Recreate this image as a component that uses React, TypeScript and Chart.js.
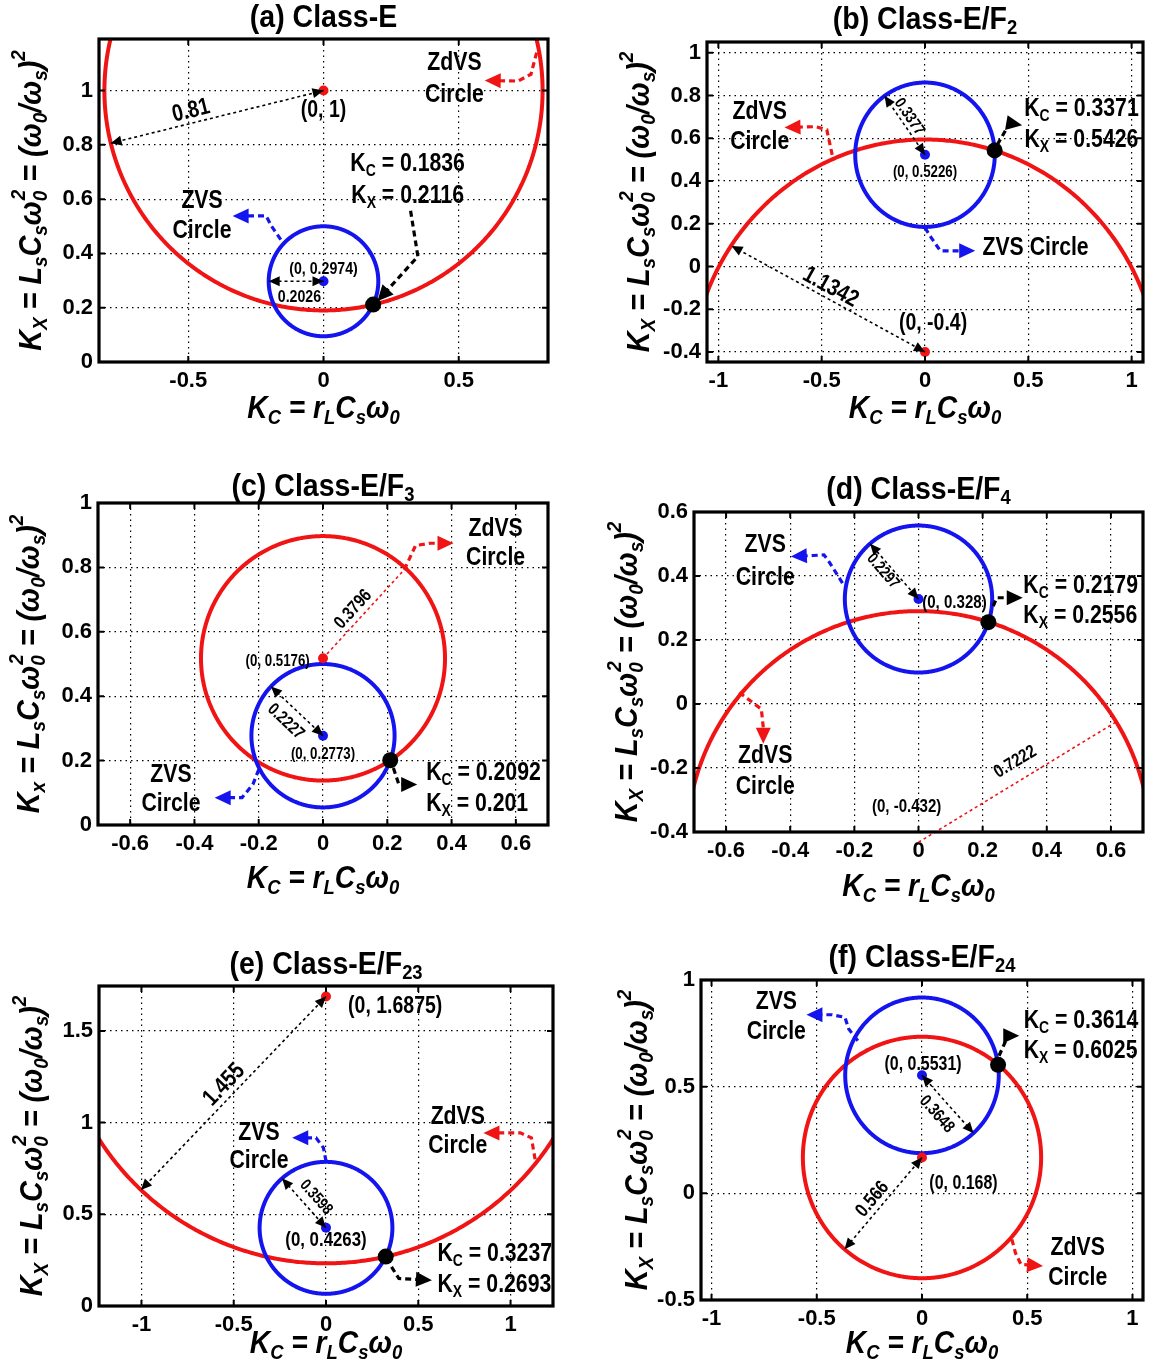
import React, { useEffect, useRef } from "react";
import { Chart, registerables } from "chart.js";

Chart.register(...registerables);

const FONT = '"Liberation Sans", Arial, sans-serif';
const RED = "#f01414";
const BLUE = "#1414ee";
const BLACK = "#000000";

// ---------------- data ----------------
const panelLetters = ["(a)", "(b)", "(c)", "(d)", "(e)", "(f)"];
const panelClasses = ["Class-E", "Class-E/F_{2}", "Class-E/F_{3}", "Class-E/F_{4}", "Class-E/F_{23}", "Class-E/F_{24}"];
const xLimits = [[-0.83, 0.83], [-1.055, 1.055], [-0.7, 0.7], [-0.7, 0.7], [-1.23, 1.23], [-1.05, 1.05]];
const yLimits = [[0, 1.19], [-0.447, 1.05], [0, 1], [-0.4, 0.6], [0, 1.745], [-0.5, 1]];
const xTickValues = [
  [-0.5, 0, 0.5],
  [-1, -0.5, 0, 0.5, 1],
  [-0.6, -0.4, -0.2, 0, 0.2, 0.4, 0.6],
  [-0.6, -0.4, -0.2, 0, 0.2, 0.4, 0.6],
  [-1, -0.5, 0, 0.5, 1],
  [-1, -0.5, 0, 0.5, 1],
];
const yTickValues = [
  [0, 0.2, 0.4, 0.6, 0.8, 1],
  [-0.4, -0.2, 0, 0.2, 0.4, 0.6, 0.8, 1],
  [0, 0.2, 0.4, 0.6, 0.8, 1],
  [-0.4, -0.2, 0, 0.2, 0.4, 0.6],
  [0, 0.5, 1, 1.5],
  [-0.5, 0, 0.5, 1],
];
// ZdVS (red) circles: labelled centre, drawn centre, radius
const zdvsCenterY = [1, -0.4, 0.5176, -0.432, 1.6875, 0.168];
const zdvsDrawnCenterY = [1, -0.5404, 0.5176, -0.432, 1.6875, 0.168];
const zdvsRadius = [0.81, 1.1342, 0.3796, 0.7222, 1.455, 0.566];
// ZVS (blue) circles
const zvsCenterY = [0.2974, 0.5226, 0.2773, 0.328, 0.4263, 0.5531];
const zvsRadius = [0.2026, 0.3377, 0.2227, 0.2297, 0.3598, 0.3648];
// design points (intersection)
const designKc = [0.1836, 0.3371, 0.2092, 0.2179, 0.3237, 0.3614];
const designKx = [0.2116, 0.5426, 0.201, 0.2556, 0.2693, 0.6025];

// ---------------- layout ----------------
const colEdges = [0, 575, 1151];
const rowEdges = [0, 440, 915, 1367];
const boxRects = [
  [99, 39, 548, 362],
  [707, 42, 1143, 362],
  [98, 503, 548, 825],
  [694, 512, 1144, 832],
  [99, 986, 553, 1306],
  [701, 980, 1143, 1300],
];
const titleDy = [21, 22, 16, 22, 21, 22];
const xLabelDy = [47, 47, 54, 55, 38, 44];
const yLabelDx = [67, 67, 68, 66, 66, 63];

type TextItem = { s: string; x: number; y: number; size: number; color?: string; align?: "left" | "center" | "right"; along?: number };
type ArrowItem = { p: number[][]; c: string; kind: "call" | "dim" | "line" };
type Layout = { texts: TextItem[]; arrows: ArrowItem[] };

const layouts: Layout[] = [
  {
    arrows: [
      { p: [[0, zdvsCenterY[0]], [-0.787, 0.806]], c: BLACK, kind: "dim" },
      { p: [[0.788, 1.14], [0.767, 1.06], [0.719, 1.035], [0.596, 1.037]], c: RED, kind: "call" },
      { p: [[0.322, 0.557], [0.349, 0.389], [0.199, 0.224]], c: BLACK, kind: "call" },
      { p: [[-0.158, 0.451], [-0.192, 0.5], [-0.212, 0.538], [-0.336, 0.538]], c: BLUE, kind: "call" },
      { p: [[0, zvsCenterY[0]], [-zvsRadius[0], zvsCenterY[0]]], c: BLACK, kind: "dim" },
    ],
    texts: [
      { s: `(0, ${zdvsCenterY[0]})`, x: 0, y: 0.925, size: 22 },
      { s: String(zdvsRadius[0]), x: -0.49, y: 0.925, size: 22, along: 0 },
      { s: "ZdVS", x: 0.484, y: 1.103, size: 24 },
      { s: "Circle", x: 0.484, y: 0.985, size: 24 },
      { s: `K_{C} = ${designKc[0]}`, x: 0.311, y: 0.73, size: 24 },
      { s: `K_{X} = ${designKx[0]}`, x: 0.311, y: 0.612, size: 24 },
      { s: "ZVS", x: -0.449, y: 0.594, size: 24 },
      { s: "Circle", x: -0.449, y: 0.482, size: 24 },
      { s: `(0, ${zvsCenterY[0]})`, x: 0, y: 0.342, size: 16 },
      { s: String(zvsRadius[0]), x: -0.089, y: 0.24, size: 16 },
    ],
  },
  {
    arrows: [
      { p: [[-0.449, 0.522], [-0.475, 0.639], [-0.528, 0.654], [-0.68, 0.65]], c: RED, kind: "call" },
      { p: [[0, zvsCenterY[1]], [-0.196, 0.798]], c: BLACK, kind: "dim" },
      { p: [[0.35, 0.57], [0.41, 0.67], [0.47, 0.66]], c: BLACK, kind: "call" },
      { p: [[0, 0.181], [0.03, 0.135], [0.074, 0.073], [0.243, 0.073]], c: BLUE, kind: "call" },
      { p: [[0, zdvsCenterY[1]], [-0.936, 0.096]], c: BLACK, kind: "dim" },
    ],
    texts: [
      { s: "ZdVS", x: -0.8, y: 0.724, size: 24 },
      { s: "Circle", x: -0.8, y: 0.584, size: 24 },
      { s: `K_{C} = ${designKc[1]}`, x: 0.757, y: 0.736, size: 24 },
      { s: `K_{X} = ${designKx[1]}`, x: 0.757, y: 0.592, size: 24 },
      { s: `(0, ${zvsCenterY[1]})`, x: 0, y: 0.437, size: 15 },
      { s: String(zvsRadius[1]), x: -0.076, y: 0.7, size: 15, along: 1 },
      { s: "ZVS Circle", x: 0.535, y: 0.088, size: 24 },
      { s: `(0, ${zdvsCenterY[1]})`, x: 0.039, y: -0.268, size: 22 },
      { s: String(zdvsRadius[1]), x: -0.457, y: -0.098, size: 22, along: 4 },
    ],
  },
  {
    arrows: [
      { p: [[0, zdvsCenterY[2]], [0.253, 0.793]], c: RED, kind: "line" },
      { p: [[0.253, 0.793], [0.288, 0.868], [0.333, 0.875], [0.406, 0.875]], c: RED, kind: "call" },
      { p: [[0, zvsCenterY[2]], [-0.162, 0.43]], c: BLACK, kind: "dim" },
      { p: [[-0.2, 0.172], [-0.218, 0.126], [-0.252, 0.085], [-0.337, 0.085]], c: BLUE, kind: "call" },
      { p: [[0.219, 0.177], [0.236, 0.126], [0.293, 0.126]], c: BLACK, kind: "call" },
    ],
    texts: [
      { s: "ZdVS", x: 0.537, y: 0.921, size: 24 },
      { s: "Circle", x: 0.537, y: 0.829, size: 24 },
      { s: String(zdvsRadius[2]), x: 0.094, y: 0.67, size: 17, along: 0 },
      { s: `(0, ${zdvsCenterY[2]})`, x: -0.141, y: 0.508, size: 15 },
      { s: String(zvsRadius[2]), x: -0.116, y: 0.321, size: 16, along: 2 },
      { s: `(0, ${zvsCenterY[2]})`, x: 0, y: 0.218, size: 15 },
      { s: "ZVS", x: -0.473, y: 0.157, size: 24 },
      { s: "Circle", x: -0.473, y: 0.065, size: 24 },
      { s: `K_{C} = ${designKc[2]}`, x: 0.321, y: 0.162, size: 24, align: "left" },
      { s: `K_{X} = ${designKx[2]}`, x: 0.321, y: 0.065, size: 24, align: "left" },
    ],
  },
  {
    arrows: [
      { p: [[-0.237, 0.378], [-0.283, 0.451], [-0.295, 0.466], [-0.329, 0.464], [-0.398, 0.461]], c: BLUE, kind: "call" },
      { p: [[0, zvsCenterY[3]], [-0.151, 0.501]], c: BLACK, kind: "dim" },
      { p: [[0.233, 0.306], [0.244, 0.332], [0.325, 0.332]], c: BLACK, kind: "call" },
      { p: [[-0.559, 0.036], [-0.49, -0.016], [-0.484, -0.073], [-0.484, -0.124]], c: RED, kind: "call" },
      { p: [[0, zdvsCenterY[3]], [0.616, -0.056]], c: RED, kind: "line" },
    ],
    texts: [
      { s: "ZVS", x: -0.478, y: 0.497, size: 24 },
      { s: "Circle", x: -0.478, y: 0.394, size: 24 },
      { s: String(zvsRadius[3]), x: -0.111, y: 0.415, size: 15, along: 1 },
      { s: `(0, ${zvsCenterY[3]})`, x: 0.112, y: 0.316, size: 17 },
      { s: `K_{C} = ${designKc[3]}`, x: 0.327, y: 0.368, size: 24, align: "left" },
      { s: `K_{X} = ${designKx[3]}`, x: 0.327, y: 0.275, size: 24, align: "left" },
      { s: "ZdVS", x: -0.478, y: -0.161, size: 24 },
      { s: "Circle", x: -0.478, y: -0.259, size: 24 },
      { s: String(zdvsRadius[3]), x: 0.302, y: -0.181, size: 17, along: 4 },
      { s: `(0, ${zdvsCenterY[3]})`, x: -0.037, y: -0.321, size: 17 },
    ],
  },
  {
    arrows: [
      { p: [[0, zdvsCenterY[4]], [-1.003, 0.633]], c: BLACK, kind: "dim" },
      { p: [[0, 0.79], [-0.014, 0.863], [-0.054, 0.917], [-0.183, 0.917]], c: BLUE, kind: "call" },
      { p: [[1.133, 0.8], [1.113, 0.917], [1.053, 0.944], [0.853, 0.944]], c: RED, kind: "call" },
      { p: [[0, zvsCenterY[4]], [-0.238, 0.696]], c: BLACK, kind: "dim" },
      { p: [[0.355, 0.213], [0.395, 0.15], [0.574, 0.141]], c: BLACK, kind: "call" },
    ],
    texts: [
      { s: `(0, ${zdvsCenterY[4]})`, x: 0.375, y: 1.634, size: 22 },
      { s: String(zdvsRadius[4]), x: -0.552, y: 1.206, size: 22, along: 0 },
      { s: "ZVS", x: -0.363, y: 0.944, size: 24 },
      { s: "Circle", x: -0.363, y: 0.79, size: 24 },
      { s: "ZdVS", x: 0.714, y: 1.034, size: 24 },
      { s: "Circle", x: 0.714, y: 0.872, size: 24 },
      { s: String(zvsRadius[4]), x: -0.054, y: 0.592, size: 15, along: 3 },
      { s: `(0, ${zvsCenterY[4]})`, x: 0, y: 0.357, size: 19 },
      { s: `K_{C} = ${designKc[4]}`, x: 0.604, y: 0.285, size: 24, align: "left" },
      { s: `K_{X} = ${designKx[4]}`, x: 0.604, y: 0.114, size: 24, align: "left" },
    ],
  },
  {
    arrows: [
      { p: [[-0.305, 0.715], [-0.348, 0.77], [-0.366, 0.825], [-0.427, 0.837], [-0.549, 0.837]], c: BLUE, kind: "call" },
      { p: [[0.366, 0.645], [0.409, 0.739], [0.462, 0.739]], c: BLACK, kind: "call" },
      { p: [[0, zvsCenterY[5]], [0.245, 0.282]], c: BLACK, kind: "dim" },
      { p: [[0, zdvsCenterY[5]], [-0.368, -0.262]], c: BLACK, kind: "dim" },
      { p: [[0.427, -0.216], [0.444, -0.279], [0.47, -0.333], [0.575, -0.341]], c: RED, kind: "call" },
    ],
    texts: [
      { s: "ZVS", x: -0.692, y: 0.897, size: 24 },
      { s: "Circle", x: -0.692, y: 0.757, size: 24 },
      { s: `K_{C} = ${designKc[5]}`, x: 0.483, y: 0.809, size: 24, align: "left" },
      { s: `K_{X} = ${designKx[5]}`, x: 0.483, y: 0.668, size: 24, align: "left" },
      { s: `(0, ${zvsCenterY[5]})`, x: 0.005, y: 0.602, size: 18 },
      { s: String(zvsRadius[5]), x: 0.07, y: 0.371, size: 16, along: 2 },
      { s: `(0, ${zdvsCenterY[5]})`, x: 0.197, y: 0.045, size: 18 },
      { s: String(zdvsRadius[5]), x: -0.235, y: -0.028, size: 18, along: 3 },
      { s: "ZdVS", x: 0.74, y: -0.255, size: 24 },
      { s: "Circle", x: 0.74, y: -0.396, size: 24 },
    ],
  },
];

const xAxisLabel = "K_{C} = r_{L}C_{s}ω_{0}";
const yAxisLabels = [
  "K_{X} = L_{s}C_{s}ω_{0}^{2} = (ω_{0}/ω_{s})^{2}",
  "K_{X} = L_{s}C_{s}ω_{0}^{2} = (ω_{0}/ω_{s})^{2}",
  "K_{x} = L_{s}C_{s}ω_{0}^{2} = (ω_{0}/ω_{s})^{2}",
  "K_{X} = L_{s}C_{s}ω_{0}^{2} = (ω_{0}/ω_{s})^{2}",
  "K_{X} = L_{s}C_{s}ω_{0}^{2} = (ω_{0}/ω_{s})^{2}",
  "K_{X} = L_{s}C_{s}ω_{0}^{2} = (ω_{0}/ω_{s})^{2}",
];

// ---------------- helpers ----------------
function circlePoints(cx: number, cy: number, r: number) {
  const pts: { x: number; y: number }[] = [];
  for (let d = 0; d <= 360; d += 1) {
    const a = (d * Math.PI) / 180;
    pts.push({ x: cx + r * Math.cos(a), y: cy + r * Math.sin(a) });
  }
  return pts;
}

type Run = { t: string; k: number };
function parseRich(s: string): Run[] {
  const runs: Run[] = [];
  const re = /([_^])\{([^}]*)\}/g;
  let last = 0;
  let m: RegExpExecArray | null;
  while ((m = re.exec(s))) {
    if (m.index > last) runs.push({ t: s.slice(last, m.index), k: 0 });
    runs.push({ t: m[2], k: m[1] === "_" ? -1 : 1 });
    last = re.lastIndex;
  }
  if (last < s.length) runs.push({ t: s.slice(last), k: 0 });
  return runs;
}

function drawRich(
  ctx: CanvasRenderingContext2D,
  s: string,
  x: number,
  y: number,
  size: number,
  o: { align?: string; color?: string; italic?: boolean; angle?: number; sx?: number } = {}
) {
  const runs = parseRich(s);
  const fontOf = (k: number) => `${o.italic ? "italic " : ""}bold ${k === 0 ? size : Math.round(size * 0.66)}px ${FONT}`;
  // compute x offsets, stacking a superscript directly after a subscript
  const offs: number[] = [];
  let w = 0;
  let prevStart = 0;
  let prevW = 0;
  runs.forEach((r, i) => {
    ctx.font = fontOf(r.k);
    const ww = ctx.measureText(r.t).width;
    if (r.k === 1 && i > 0 && runs[i - 1].k === -1) {
      const start = prevStart + 1;
      offs.push(start);
      w = Math.max(prevStart + prevW, start + ww);
    } else {
      offs.push(w);
      prevStart = w;
      prevW = ww;
      w += ww;
    }
  });
  ctx.save();
  ctx.translate(x, y);
  ctx.rotate(o.angle || 0);
  ctx.scale(o.sx || 1, 1);
  const x0 = o.align === "left" ? 0 : o.align === "right" ? -w : -w / 2;
  ctx.fillStyle = o.color || BLACK;
  ctx.textBaseline = "middle";
  ctx.textAlign = "left";
  runs.forEach((r, i) => {
    ctx.font = fontOf(r.k);
    const dy = r.k === -1 ? size * 0.28 : r.k === 1 ? -size * 0.4 : 0;
    ctx.fillText(r.t, x0 + offs[i], dy);
  });
  ctx.restore();
}

function head(ctx: CanvasRenderingContext2D, tip: number[], from: number[], len: number, half: number) {
  const dx = tip[0] - from[0];
  const dy = tip[1] - from[1];
  const L = Math.hypot(dx, dy) || 1;
  const ux = dx / L, uy = dy / L;
  const bx = tip[0] - ux * len, by = tip[1] - uy * len;
  ctx.beginPath();
  ctx.moveTo(tip[0], tip[1]);
  ctx.lineTo(bx - uy * half, by + ux * half);
  ctx.lineTo(bx + uy * half, by - ux * half);
  ctx.closePath();
  ctx.fill();
}

function drawArrow(ctx: CanvasRenderingContext2D, pts: number[][], color: string, kind: string) {
  ctx.save();
  ctx.strokeStyle = color;
  ctx.fillStyle = color;
  const n = pts.length;
  if (kind === "call") {
    ctx.lineWidth = 3.2;
    ctx.setLineDash([6, 4]);
    const len = 16, half = 7.5;
    const last = pts[n - 1], prev = pts[n - 2];
    const L = Math.hypot(last[0] - prev[0], last[1] - prev[1]) || 1;
    const end = [last[0] - ((last[0] - prev[0]) / L) * (len - 2), last[1] - ((last[1] - prev[1]) / L) * (len - 2)];
    ctx.beginPath();
    ctx.moveTo(pts[0][0], pts[0][1]);
    for (let k = 1; k < n - 1; k++) ctx.lineTo(pts[k][0], pts[k][1]);
    ctx.lineTo(end[0], end[1]);
    ctx.stroke();
    ctx.setLineDash([]);
    head(ctx, last, prev, len, half);
  } else {
    ctx.lineWidth = 1.6;
    ctx.setLineDash([3, 3]);
    ctx.beginPath();
    ctx.moveTo(pts[0][0], pts[0][1]);
    for (let k = 1; k < n; k++) ctx.lineTo(pts[k][0], pts[k][1]);
    ctx.stroke();
    ctx.setLineDash([]);
    if (kind === "dim") {
      head(ctx, pts[n - 1], pts[n - 2], 11, 5);
      head(ctx, pts[0], pts[1], 11, 5);
    }
  }
  ctx.restore();
}

function makeDecor(i: number) {
  return {
    id: "decor" + i,
    afterDatasetsDraw(chart: any) {
      const ctx: CanvasRenderingContext2D = chart.ctx;
      const { left, top, right, bottom } = chart.chartArea;
      const xs = chart.scales.x;
      const ys = chart.scales.y;
      const X = (v: number) => xs.getPixelForValue(v);
      const Y = (v: number) => ys.getPixelForValue(v);
      const lay = layouts[i];
      const pixArrows = lay.arrows.map((a) => a.p.map((q) => [X(q[0]), Y(q[1])]));
      pixArrows.forEach((pp, k) => drawArrow(ctx, pp, lay.arrows[k].c, lay.arrows[k].kind));
      lay.texts.forEach((t) => {
        let angle = 0;
        if (t.along !== undefined) {
          const pp = pixArrows[t.along];
          let dx = pp[pp.length - 1][0] - pp[0][0];
          let dy = pp[pp.length - 1][1] - pp[0][1];
          if (dx < 0) { dx = -dx; dy = -dy; }
          angle = Math.atan2(dy, dx);
        }
        drawRich(ctx, t.s, X(t.x), Y(t.y), t.size * 1.08, { align: t.align || "center", color: t.color, angle, sx: 0.82 });
      });
      // inner tick marks
      ctx.save();
      ctx.strokeStyle = BLACK;
      ctx.lineWidth = 2;
      ctx.setLineDash([]);
      const tl = 6;
      ctx.beginPath();
      xTickValues[i].forEach((v) => {
        const px = X(v);
        ctx.moveTo(px, bottom); ctx.lineTo(px, bottom - tl);
        ctx.moveTo(px, top); ctx.lineTo(px, top + tl);
      });
      yTickValues[i].forEach((v) => {
        const py = Y(v);
        ctx.moveTo(left, py); ctx.lineTo(left + tl, py);
        ctx.moveTo(right, py); ctx.lineTo(right - tl, py);
      });
      ctx.stroke();
      // box
      ctx.lineWidth = 3.2;
      ctx.strokeRect(left, top, right - left, bottom - top);
      ctx.restore();
      // title and axis labels
      const midX = (left + right) / 2;
      const midY = (top + bottom) / 2;
      drawRich(ctx, `${panelLetters[i]} ${panelClasses[i]}`, midX, top - titleDy[i], 31, { sx: 0.92 });
      drawRich(ctx, xAxisLabel, midX, bottom + xLabelDy[i], 32, { italic: true, sx: 0.88 });
      drawRich(ctx, yAxisLabels[i], left - yLabelDx[i], midY, 32, { italic: true, angle: -Math.PI / 2, sx: 0.9 });
    },
  };
}

function buildConfig(i: number, padTop: number, padRight: number, yAxisWidth: number, xAxisHeight: number): any {
  const tickFont = { family: FONT, size: 22, weight: "bold" as const };
  return {
    type: "scatter",
    data: {
      datasets: [
        {
          label: "ZdVS Circle",
          data: circlePoints(0, zdvsDrawnCenterY[i], zdvsRadius[i]),
          showLine: true,
          borderColor: RED,
          borderWidth: 4,
          pointRadius: 0,
          tension: 0.001,
          order: 3,
        },
        {
          label: "ZVS Circle",
          data: circlePoints(0, zvsCenterY[i], zvsRadius[i]),
          showLine: true,
          borderColor: BLUE,
          borderWidth: 4,
          pointRadius: 0,
          tension: 0.001,
          order: 2,
        },
        {
          label: "Centres",
          data: [
            { x: 0, y: zdvsCenterY[i] },
            { x: 0, y: zvsCenterY[i] },
          ],
          pointRadius: 5,
          pointBackgroundColor: [RED, BLUE],
          pointBorderWidth: 0,
          order: 1,
        },
        {
          label: "Design point",
          data: [{ x: designKc[i], y: designKx[i] }],
          pointRadius: 8,
          pointBackgroundColor: BLACK,
          pointBorderWidth: 0,
          order: 0,
        },
      ],
    },
    options: {
      animation: false,
      responsive: false,
      events: [],
      layout: { padding: { left: 0, top: padTop, right: padRight, bottom: 0 } },
      plugins: { legend: { display: false }, tooltip: { enabled: false }, title: { display: false } },
      scales: {
        x: {
          type: "linear",
          min: xLimits[i][0],
          max: xLimits[i][1],
          afterBuildTicks: (s: any) => {
            s.ticks = xTickValues[i].map((v) => ({ value: v }));
          },
          afterFit: (s: any) => {
            s.height = xAxisHeight;
          },
          grid: { color: BLACK, lineWidth: 1.2, drawTicks: false },
          border: { display: false, dash: [1.5, 4] },
          ticks: {
            font: tickFont,
            color: BLACK,
            padding: 6,
            maxRotation: 0,
            autoSkip: false,
            callback: (v: any) => String(Number(v)),
          },
        },
        y: {
          type: "linear",
          min: yLimits[i][0],
          max: yLimits[i][1],
          afterBuildTicks: (s: any) => {
            s.ticks = yTickValues[i].map((v) => ({ value: v }));
          },
          afterFit: (s: any) => {
            s.width = yAxisWidth;
          },
          grid: { color: BLACK, lineWidth: 1.2, drawTicks: false },
          border: { display: false, dash: [1.5, 4] },
          ticks: {
            font: tickFont,
            color: BLACK,
            padding: 6,
            autoSkip: false,
            callback: (v: any) => String(Number(v)),
          },
        },
      },
    },
    plugins: [makeDecor(i)],
  };
}

function Panel({ i }: { i: number }) {
  const ref = useRef<HTMLCanvasElement>(null);
  const col = i % 2;
  const row = Math.floor(i / 2);
  const cx0 = colEdges[col], cx1 = colEdges[col + 1];
  const cy0 = rowEdges[row], cy1 = rowEdges[row + 1];
  const [bl, bt, br, bb] = boxRects[i];
  useEffect(() => {
    const chart = new Chart(
      ref.current as HTMLCanvasElement,
      buildConfig(i, bt - cy0, cx1 - br, bl - cx0, cy1 - bb)
    );
    return () => chart.destroy();
  }, [i]);
  return (
    <canvas
      ref={ref}
      width={cx1 - cx0}
      height={cy1 - cy0}
      style={{ position: "absolute", left: cx0, top: cy0, width: cx1 - cx0, height: cy1 - cy0 }}
    />
  );
}

export default function App() {
  return (
    <div style={{ position: "absolute", left: 0, top: 0, width: 1151, height: 1367, background: "#fff", overflow: "hidden" }}>
      {[0, 1, 2, 3, 4, 5].map((i) => (
        <Panel key={i} i={i} />
      ))}
    </div>
  );
}
